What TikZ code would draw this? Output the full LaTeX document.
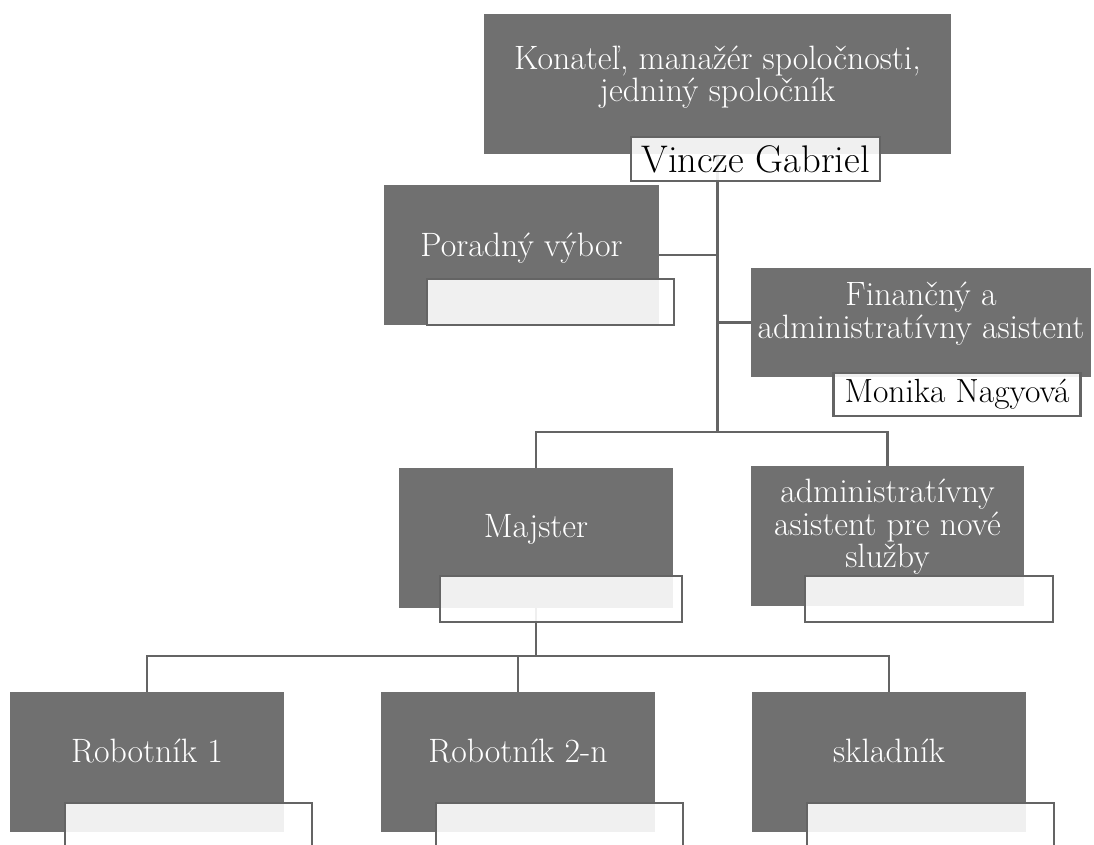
\documentclass[tikz,border=0pt]{standalone}
\usetikzlibrary{backgrounds}
\definecolor{boxgray}{RGB}{112,112,112}
\definecolor{linegray}{RGB}{100,100,100}

\begin{document}
\begin{tikzpicture}[x=1pt, y=-1pt,
        unit/.style={rectangle, fill=boxgray, minimum width=274pt, minimum height=140pt, inner sep=0pt},
        unittext/.style={text=white, align=center, inner sep=0pt, font=\fontsize{33.8}{32.5}\selectfont},
        namebox/.style={rectangle, draw=linegray, line width=2.5pt, fill=white, fill opacity=0.9, text opacity=1,
            minimum width=247pt, minimum height=46pt, inner sep=0pt},
        link/.style={draw=linegray, line width=2.5pt}]
        \useasboundingbox (0,0) rectangle (1094,844);

        \node[unit, minimum width=467pt] (konatel) at (717.5,84) {};
        \node[unit, minimum width=275pt] (poradny) at (521.5,255) {};
        \node[unit, minimum width=340pt, minimum height=109pt] (financny) at (921,322.5) {};
        \node[unit] (majster) at (536,538) {};
        \node[unit, minimum width=273pt] (admin) at (887.5,536) {};
        \node[unit] (rob1) at (147,762) {};
        \node[unit] (rob2) at (518,762) {};
        \node[unit] (sklad) at (889,762) {};

        \node[unittext] (konatelT) at (717.5,77) {Konateľ, manažér spoločnosti,\\jedniný spoločník};
        \node[unittext] (poradnyT) at (521.5,248) {Poradný výbor};
        \node[unittext] (financnyT) at (921,313.5) {Finančný a\\administratívny asistent};
        \node[unittext] (majsterT) at (536,529.5) {Majster};
        \node[unittext] (adminT) at (887.5,527) {administratívny\\asistent pre nové\\služby};
        \node[unittext] (rob1T) at (147,751) {Robotník 1};
        \node[unittext] (rob2T) at (518,751) {Robotník 2-n};
        \node[unittext] (skladT) at (889,751) {skladník};

        \coordinate (bar1) at (717.5,432);
        \coordinate (bar2) at (536,656);

        \begin{pgfonlayer}{background}
        \draw[link] (konatel) -- (bar1);
        \draw[link] (poradny) -- (poradny -| konatel);
        \draw[link] (financny) -- (financny -| konatel);
        \draw[link] (bar1) -| (majster);
        \draw[link] (bar1) -| (admin);
        \draw[link] (majster) -- (bar2);
        \draw[link] (bar2) -| (rob1);
        \draw[link] (bar2) -| (rob2);
        \draw[link] (bar2) -| (sklad);
        \end{pgfonlayer}

        \node[namebox, minimum width=249pt, minimum height=44pt, font=\fontsize{38.5}{40}\selectfont] (vincze) at (755.5,159) {Vincze Gabriel};
        \node[namebox] (poradnyL) at (550.5,302) {};
        \node[namebox, minimum height=43pt, font=\fontsize{33.5}{35}\selectfont] (monika) at (957,394.5) {Monika Nagyová};
        \node[namebox, minimum width=242pt] (majsterL) at (561,599) {};
        \node[namebox, minimum width=248pt] (adminL) at (929,599) {};
        \node[namebox] (rob1L) at (188.5,826) {};
        \node[namebox] (rob2L) at (559.5,826) {};
        \node[namebox] (skladL) at (930.5,826) {};
\end{tikzpicture}
\end{document}
